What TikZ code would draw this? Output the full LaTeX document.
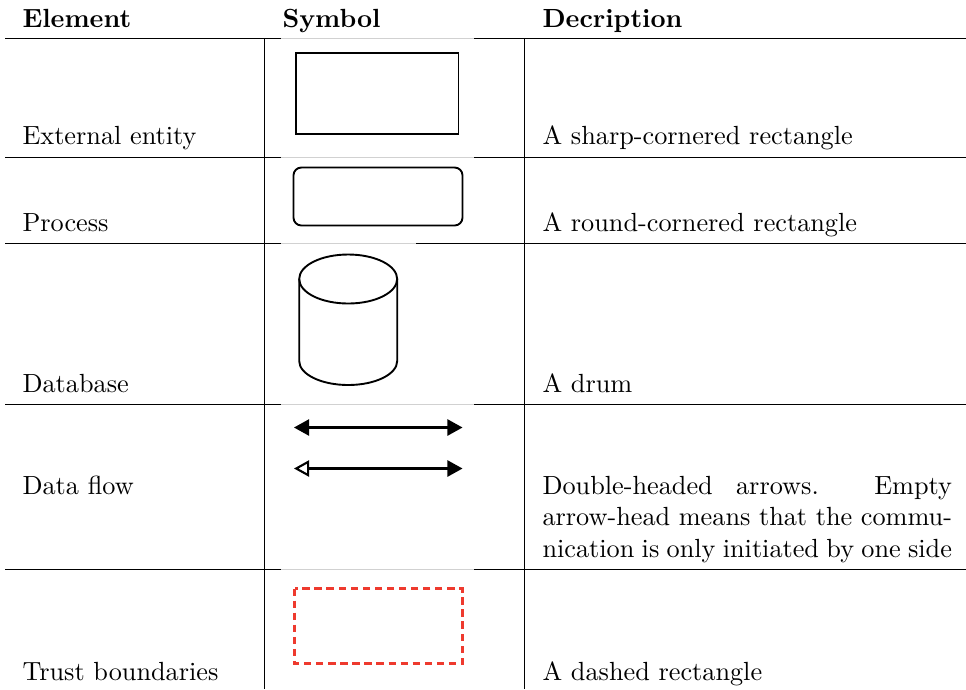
\documentclass[tikz,border=0pt]{standalone}
\usetikzlibrary{arrows.meta}
\definecolor{boundaryred}{RGB}{238,58,46}
\begin{document}
\begin{tikzpicture}[x=0.381pt,y=-0.381pt,
  txt/.style={inner sep=0pt,anchor=base west},
  rule/.style={line width=0.45pt,black},
  faintrule/.style={line width=0.45pt,black!18},
  symline/.style={line width=0.72pt,black},
  flow/.style={line width=0.8pt,black},
  trust/.style={line width=0.9pt,boundaryred,dash pattern=on 2.8pt off 1.8pt}]
\useasboundingbox (0,0) rectangle (966,689);

% header row
\node[txt] (hElem) at (22,27) {\bfseries Element};
\node[txt] (hSym)  at (282,27) {\bfseries Symbol};
\node[txt] (hDesc) at (542,27) {\bfseries Decription};

% horizontal rules (light where the symbol pictures overlap them)
\foreach \y/\g in {38.5/474,157.5/474,404.5/474,569.5/474}{
  \draw[rule] (5,\y) -- (281,\y);
  \draw[faintrule] (281,\y) -- (\g,\y);
  \draw[rule] (\g,\y) -- (966,\y);
}
\draw[rule] (5,243.5) -- (281,243.5);
\draw[faintrule] (281,243.5) -- (416,243.5);
\draw[rule] (416,243.5) -- (966,243.5);

% vertical rules
\draw[rule] (264.5,38.5) -- (264.5,689);
\draw[rule] (524.5,38.5) -- (524.5,689);

% external entity
\node[txt] (eEnt) at (22,144.5) {External entity};
\draw[symline] (296,53) rectangle (458.5,134);
\node[txt] (dEnt) at (542,144.5) {A sharp-cornered rectangle};

% process
\node[txt] (eProc) at (22,231) {Process};
\draw[symline,rounded corners=3pt] (293.5,167.5) rectangle (462.5,225.5);
\node[txt] (dProc) at (542,231) {A round-cornered rectangle};

% database drum
\node[txt] (eDb) at (22,392.5) {Database};
\draw[symline] (348.2,279) ellipse [x radius=49, y radius=24.5];
\draw[symline] (299.2,279) -- (299.2,361)
  arc[start angle=180,end angle=0,x radius=49,y radius=24]
  -- (397.2,279);
\node[txt] (dDb) at (542,392.5) {A drum};

% data flows
\node[txt] (eFlow) at (22,494) {Data flow};
\coordinate (fa1) at (294,427.5);
\coordinate (fb1) at (462.5,427.5);
\coordinate (fa2) at (294,468.5);
\coordinate (fb2) at (462.5,468.5);
\draw[flow,{Triangle[length=5.8pt,width=6.2pt]}-{Triangle[length=5.8pt,width=6.2pt]}] (fa1) -- (fb1);
\draw[flow,{Triangle[open,length=5.8pt,width=6.2pt]}-{Triangle[length=5.8pt,width=6.2pt]}] (fa2) -- (fb2);
\node[txt,text width=156pt,align=justify] (dFlow) at (542,494)
  {Double-headed arrows. Empty\linebreak arrow-head means that the commu-\linebreak nication is only initiated by one side};

% trust boundary
\node[txt] (eTrust) at (22,680) {Trust boundaries};
\draw[trust] (294.5,588.5) rectangle (462.5,663.5);
\node[txt] (dTrust) at (542,680) {A dashed rectangle};
\end{tikzpicture}
\end{document}
